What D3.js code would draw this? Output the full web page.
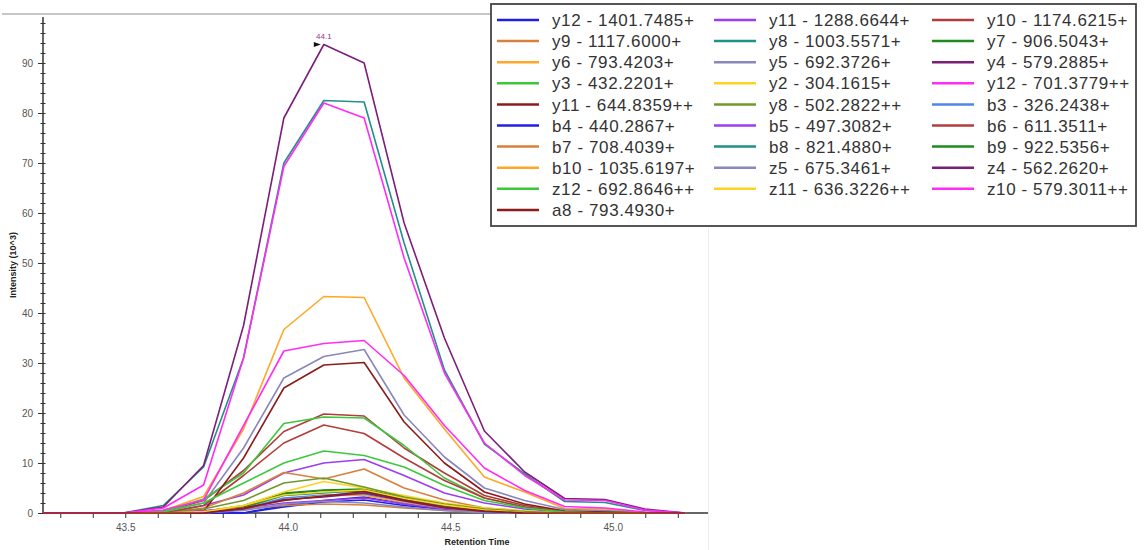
<!DOCTYPE html>
<html>
<head>
<meta charset="utf-8">
<script src="https://cdn.jsdelivr.net/npm/d3@7"></script>
<style>
  html, body { margin: 0; padding: 0; background: #fff; }
  svg { display: block; }
</style>
</head>
<body>
<svg id="chart" width="1144" height="550"></svg>
<script>
// ---------- DATA ----------
const times = [43.247, 43.370, 43.494, 43.617, 43.741, 43.864, 43.988, 44.111, 44.235,
               44.358, 44.482, 44.605, 44.729, 44.852, 44.976, 45.099, 45.223];

const y12_1401 = [0,0,0,0,0,0,1.5,2.5,3.2,1.8,0.8,0.2,0,0,0,0,0];
const y11_1288 = [0,0,0,0,1.5,3.6,8,10,10.7,7.5,4,2,0.8,0.2,0,0,0];
const y10_1174 = [0,0,0,0.2,2.5,8.5,16.3,19.8,19.4,13,8,3.5,1.5,0.3,0.2,0,0];
const y9_1117  = [0,0,0,0,1,4,8.1,6.8,8.8,5,2.6,1,0.4,0,0,0,0];
const y8_1003  = [0,0,0,1.5,9.2,31,70,82.5,82.2,54,28.6,13.8,7.8,2.3,2.1,0.5,0];
const y7_906   = [0,0,0,0,0.3,1.5,4,4.6,4.8,3,1.5,0.5,0.1,0,0,0,0];
const y6_793   = [0,0,0,0.5,3.3,16.8,36.7,43.3,43.1,27,16.8,7.2,4.2,0.9,0.8,0,0];
const y5_692   = [0,0,0,0.3,2,13,27,31.3,32.7,19.6,11.2,5,2.5,0.7,0.5,0,0];
const y4_579   = [0,0,0,1.2,9.5,37.5,79,93.7,90,58,35,16.4,8.2,2.9,2.7,0.8,0];
const y3_432   = [0,0,0,0.3,2.8,8,17.9,19.2,19,13.5,7,3,1.2,0.3,0.2,0,0];
const y2_304   = [0,0,0,0,0.3,1.5,4.2,6.3,5,3.5,2,1,0.4,0,0,0,0];
const y12_701  = [0,0,0,1.0,5.6,31,69.3,82,79,51,28,14,7.5,2.6,2.5,0.6,0];
const y11_644  = [0,0,0,0,0.3,11,25,29.6,30.1,18.2,10,4.2,1.8,0.4,0.2,0,0];
const y8_502   = [0,0,0,0,0.8,2.5,6,7,5.2,3.2,1.8,0.8,0.3,0,0,0,0];
const b3_326   = [0,0,0,0,0,0.8,3,3.6,3.8,2,1.2,0.3,0,0,0,0,0];
const b4_440   = [0,0,0,0,0,0,1.2,2.2,2.6,1.5,0.7,0,0,0,0,0,0];
const b5_497   = [0,0,0,0,0.5,1,2,2.5,3,1.8,0.8,0.2,0,0,0,0,0];
const b6_611   = [0,0,0,0,1.5,7.5,14,17.6,15.9,11,6.5,3,1.2,0.3,0,0,0];
const b7_708   = [0,0,0,0,0.2,0.8,1.5,1.8,1.6,1,0.5,0.2,0,0,0,0,0];
const b8_821   = [0,0,0,0,0.2,1,3.5,4,4.5,2.8,1.5,0.5,0.1,0,0,0,0];
const b9_922   = [0,0,0,0,0.2,1.2,3.8,4.5,4.2,2.6,1.2,0.3,0,0,0,0,0];
const b10_1035 = [0,0,0,0,0.3,1,2.5,3.5,3.5,2.2,1,0.3,0,0,0,0,0];
const z5_675   = [0,0,0,0,0,0.5,1.8,2.3,2.0,1.2,0.5,0,0,0,0,0,0];
const z4_562   = [0,0,0,0,0,0.8,2.7,3.2,4.0,2.4,1.0,0.3,0,0,0,0,0];
const z12_692  = [0,0,0,0.2,2,6,10,12.4,11.5,9.2,5.5,2.5,1,0.2,0,0,0];
const z11_636  = [0,0,0,0,0.2,1.5,3.6,4.2,4.6,2.9,1.6,0.6,0.1,0,0,0,0];
const z10_579  = [0,0,0,0.6,2.6,17.5,32.4,33.9,34.5,27.5,17.5,9,4.5,1.3,1,0.2,0];
const a8_793   = [0,0,0,0,0,1,2.5,3.4,4.3,2.6,1.2,0.4,0,0,0,0,0];

const seriesNames = [
  "y12 - 1401.7485+", "y11 - 1288.6644+", "y10 - 1174.6215+",
  "y9 - 1117.6000+",  "y8 - 1003.5571+",  "y7 - 906.5043+",
  "y6 - 793.4203+",   "y5 - 692.3726+",   "y4 - 579.2885+",
  "y3 - 432.2201+",   "y2 - 304.1615+",   "y12 - 701.3779++",
  "y11 - 644.8359++", "y8 - 502.2822++",  "b3 - 326.2438+",
  "b4 - 440.2867+",   "b5 - 497.3082+",   "b6 - 611.3511+",
  "b7 - 708.4039+",   "b8 - 821.4880+",   "b9 - 922.5356+",
  "b10 - 1035.6197+", "z5 - 675.3461+",   "z4 - 562.2620+",
  "z12 - 692.8646++", "z11 - 636.3226++", "z10 - 579.3011++",
  "a8 - 793.4930+"
];
const seriesValues = [
  y12_1401, y11_1288, y10_1174, y9_1117, y8_1003, y7_906, y6_793, y5_692, y4_579,
  y3_432, y2_304, y12_701, y11_644, y8_502, b3_326, b4_440, b5_497, b6_611, b7_708,
  b8_821, b9_922, b10_1035, z5_675, z4_562, z12_692, z11_636, z10_579, a8_793
];

const palette = ["#1f1fe6", "#9b3df0", "#b33c3c", "#d8803c", "#219089", "#1d8b1d",
                 "#ffa726", "#8888bb", "#7b1f7b", "#3cc83c", "#ffd21e", "#ff2cf5",
                 "#8b1c1c", "#6f9a2a", "#4f86e8"];

const xMajorTicks = [43.5, 44.0, 44.5, 45.0];
const yMajorTicks = [0, 10, 20, 30, 40, 50, 60, 70, 80, 90];
const peakLabel = "44.1";

// ---------- LAYOUT ----------
const svg = d3.select("#chart");
const xDomain = [43.2469, 45.293];
const yDomain = [0, 99.2];
const x = d3.scaleLinear().domain(xDomain).range([43, 708]);
const y = d3.scaleLinear().domain(yDomain).range([513, 17]);

// top light grey line
svg.append("line").attr("x1", 2).attr("x2", 490).attr("y1", 14).attr("y2", 14)
  .attr("stroke", "#b5b5b5").attr("stroke-width", 1.5);
// faint right border
svg.append("line").attr("x1", 708.5).attr("x2", 708.5).attr("y1", 228).attr("y2", 550)
  .attr("stroke", "#ececec").attr("stroke-width", 1);

// ---------- AXES ----------
const axisColor = "#333";
const labelColor = "#555";

// x minor ticks
const xMinor = d3.range(43.3, 45.25, 0.1).map(v => +v.toFixed(1));
const gx = svg.append("g").attr("transform", "translate(0,513)");
gx.call(d3.axisBottom(x).tickValues(xMinor).tickSize(5).tickFormat(d => xMajorTicks.includes(d) ? d3.format(".1f")(d) : ""));
gx.select(".domain").attr("stroke", axisColor).attr("stroke-width", 1.5).attr("d", `M43,0H708`);
gx.selectAll(".tick line").attr("stroke", axisColor).attr("stroke-width", 1);
gx.selectAll(".tick text").attr("fill", labelColor).attr("font-family", "Liberation Sans, Arial, sans-serif")
  .attr("font-size", 10).attr("dy", "1.0em");

// y minor + major ticks
const yMinor = d3.range(0, 99, 2);
const gy = svg.append("g").attr("transform", "translate(43,0)");
gy.call(d3.axisLeft(y).tickValues(yMinor).tickSize(0).tickFormat(d => yMajorTicks.includes(d) ? d : ""));
gy.select(".domain").attr("stroke", axisColor).attr("stroke-width", 1.5).attr("d", `M0,17V513`);
gy.selectAll(".tick line")
  .attr("x1", d => yMajorTicks.includes(d) ? -5 : -2.5)
  .attr("x2", 2.5)
  .attr("stroke", axisColor).attr("stroke-width", 1);
gy.selectAll(".tick text").attr("fill", labelColor).attr("font-family", "Liberation Sans, Arial, sans-serif")
  .attr("font-size", 10).attr("x", -10);

// axis titles
svg.append("text")
  .attr("transform", "translate(16,265) rotate(-90)")
  .attr("text-anchor", "middle")
  .attr("font-family", "Liberation Sans, Arial, sans-serif")
  .attr("font-size", 9).attr("font-weight", "bold").attr("fill", "#222")
  .text("Intensity (10^3)");
svg.append("text")
  .attr("x", 477).attr("y", 545)
  .attr("text-anchor", "middle")
  .attr("font-family", "Liberation Sans, Arial, sans-serif")
  .attr("font-size", 9).attr("font-weight", "bold").attr("fill", "#222")
  .text("Retention Time");

// ---------- LINES ----------
const line = d3.line().x((d, i) => x(times[i])).y(d => y(d));
const plot = svg.append("g");
seriesValues.forEach((vals, k) => {
  plot.append("path")
    .datum(vals)
    .attr("d", line)
    .attr("fill", "none")
    .attr("stroke", palette[k % palette.length])
    .attr("stroke-width", 1.6)
    .attr("stroke-linejoin", "round");
});

// peak annotation on the tallest series
const topIdx = d3.maxIndex(y4_579);
const px = x(times[topIdx]);
const py = y(y4_579[topIdx]);
svg.append("path")
  .attr("d", `M${px - 10},${py - 2.5}L${px - 10},${py + 2.5}L${px - 3},${py}Z`)
  .attr("fill", "#111");
svg.append("text")
  .attr("x", px).attr("y", py - 6)
  .attr("text-anchor", "middle")
  .attr("font-family", "Liberation Sans, Arial, sans-serif")
  .attr("font-size", 8).attr("fill", "#993399")
  .text(peakLabel);

// ---------- LEGEND ----------
const lg = svg.append("g");
lg.append("rect").attr("x", 491).attr("y", 4).attr("width", 645).attr("height", 222)
  .attr("fill", "#fff").attr("stroke", "#444").attr("stroke-width", 1.8);
const colX = [497, 714, 932];
const rowY0 = 20, rowH = 21.1;
seriesNames.forEach((name, k) => {
  const c = k % 3, r = Math.floor(k / 3);
  const cy = rowY0 + r * rowH;
  lg.append("line").attr("x1", colX[c]).attr("x2", colX[c] + 42)
    .attr("y1", cy).attr("y2", cy)
    .attr("stroke", palette[k % palette.length]).attr("stroke-width", 2.5);
  lg.append("text").attr("x", colX[c] + 55).attr("y", cy).attr("dy", "0.36em")
    .attr("font-family", "Liberation Sans, Arial, sans-serif")
    .attr("font-size", 17).attr("letter-spacing", 0.6).attr("fill", "#333")
    .text(name);
});
</script>
</body>
</html>
